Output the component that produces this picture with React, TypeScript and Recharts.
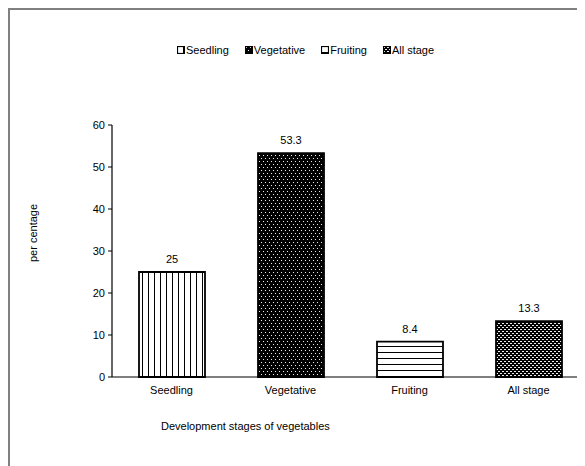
import { BarChart, Bar, XAxis, YAxis, Cell, LabelList, Legend } from 'recharts'

const stages = ['Seedling', 'Vegetative', 'Fruiting', 'All stage']
const percentages = [25, 53.3, 8.4, 13.3]
const yTicks = [0, 10, 20, 30, 40, 50, 60]

const patternIds = ['pat-seedling', 'pat-vegetative', 'pat-fruiting', 'pat-all']

const data = stages.map((stage, i) => ({ stage, value: percentages[i] }))

const FONT = '"Liberation Sans", Arial, sans-serif'

// fill patterns for the bars and the legend swatches
function Patterns() {
  return (
    <defs>
      <pattern id="pat-seedling" width="6" height="6" patternUnits="userSpaceOnUse">
        <rect width="6" height="6" fill="#fff" />
        <rect x="0" y="0" width="1" height="6" fill="#000" />
      </pattern>
      <pattern id="pat-vegetative" width="4" height="6" patternUnits="userSpaceOnUse">
        <rect width="4" height="6" fill="#000" />
        <rect x="1" y="1" width="1" height="1" fill="#eee" />
        <rect x="3" y="4" width="1" height="1" fill="#eee" />
      </pattern>
      <pattern id="pat-fruiting" width="6" height="6" patternUnits="userSpaceOnUse">
        <rect width="6" height="6" fill="#fff" />
        <rect x="0" y="0" width="6" height="1" fill="#000" />
      </pattern>
      <pattern id="pat-all" width="4" height="4" patternUnits="userSpaceOnUse">
        <rect width="4" height="4" fill="#000" />
        <rect x="0" y="1" width="2" height="1" fill="#eee" />
        <rect x="2" y="3" width="2" height="1" fill="#eee" />
      </pattern>
    </defs>
  )
}

function StageLegend() {
  return (
    <div style={{ display: 'flex', alignItems: 'center', fontFamily: FONT, fontSize: 11, color: '#000' }}>
      {stages.map((stage, i) => (
        <div key={stage} style={{ display: 'flex', alignItems: 'center', marginRight: 16 }}>
          <svg width="8" height="8" style={{ marginRight: 1 }}>
            <rect x="0.5" y="0.5" width="7" height="7" fill={`url(#${patternIds[i]})`} stroke="#000" strokeWidth="1.2" />
          </svg>
          <span>{stage}</span>
        </div>
      ))}
    </div>
  )
}

function XTitle(props: any) {
  const { viewBox } = props
  return (
    <text x={viewBox.x + 49} y={viewBox.y + 53} fontSize={11} fontFamily={FONT} fill="#000">
      Development stages of vegetables
    </text>
  )
}

function YTitle() {
  return (
    <text
      x={27}
      y={223}
      transform="rotate(-90, 27, 223)"
      textAnchor="middle"
      fontSize={11}
      fontFamily={FONT}
      fill="#000"
    >
      per centage
    </text>
  )
}

export default function App() {
  return (
    <div
      style={{
        position: 'relative',
        width: 577,
        height: 458,
        borderTop: '2px solid #808080',
        borderLeft: '2px solid #808080',
        boxSizing: 'border-box',
        overflow: 'hidden',
      }}
    >
      <BarChart
        width={578}
        height={460}
        data={data}
        margin={{ top: 103, right: 0, bottom: 33, left: 0 }}
        style={{ fontFamily: FONT }}
      >
        <Patterns />
        <Legend
          verticalAlign="top"
          content={<StageLegend />}
          wrapperStyle={{ top: 34, left: 167, width: 'auto' }}
        />
        <XAxis
          dataKey="stage"
          height={60}
          axisLine={{ stroke: '#000', strokeWidth: 1.2 }}
          tickLine={false}
          tickSize={0}
          tickMargin={9}
          tick={{ fill: '#000', fontSize: 11 }}
          label={<XTitle />}
        />
        <YAxis
          width={102}
          domain={[0, 60]}
          ticks={yTicks}
          axisLine={{ stroke: '#000', strokeWidth: 1.2 }}
          tickLine={{ stroke: '#000' }}
          tickSize={4}
          tickMargin={3}
          tick={{ fill: '#000', fontSize: 11 }}
          label={<YTitle />}
        />
        <Bar dataKey="value" barSize={66} stroke="#000" strokeWidth={1.8} isAnimationActive={false}>
          {data.map((d, i) => (
            <Cell key={d.stage} fill={`url(#${patternIds[i]})`} />
          ))}
          <LabelList dataKey="value" position="top" offset={9} fill="#000" fontSize={11} />
        </Bar>
      </BarChart>
    </div>
  )
}
